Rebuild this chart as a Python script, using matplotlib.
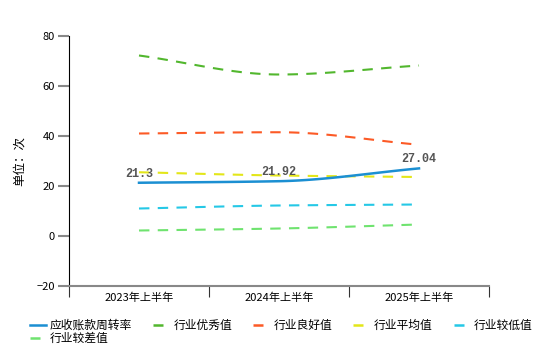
import numpy as np
import matplotlib
matplotlib.use("Agg")
import matplotlib.pyplot as plt
from matplotlib.lines import Line2D

plt.rcParams['font.family'] = ['Noto Sans CJK SC', 'DejaVu Sans']

periods = ["2023年上半年", "2024年上半年", "2025年上半年"]
turnover = [21.3, 21.92, 27.04]
excellent = [72.2, 64.6, 68.2]
good = [41.0, 41.5, 36.5]
average = [25.5, 24.2, 23.6]
low = [11.0, 12.2, 12.6]
poor = [2.2, 3.0, 4.6]

series = [
    ("应收账款周转率", turnover, "#1b8fd2", "-"),
    ("行业优秀值", excellent, "#52b72e", "--"),
    ("行业良好值", good, "#fc5a26", "--"),
    ("行业平均值", average, "#e3e619", "--"),
    ("行业较低值", low, "#25c8e6", "--"),
    ("行业较差值", poor, "#6fe36f", "--"),
]


def monotone(x, y, n=60):
    # monotone cubic (Fritsch-Carlson) through the points
    x = np.asarray(x, float)
    y = np.asarray(y, float)
    d = np.diff(y) / np.diff(x)
    m = np.zeros_like(y)
    m[0], m[-1] = d[0], d[-1]
    for i in range(1, len(y) - 1):
        if d[i - 1] * d[i] > 0:
            m[i] = 2 / (1 / d[i - 1] + 1 / d[i])
    xs, ys = [], []
    for i in range(len(x) - 1):
        h = x[i + 1] - x[i]
        t = np.linspace(0, 1, n)
        h00 = 2 * t**3 - 3 * t**2 + 1
        h10 = t**3 - 2 * t**2 + t
        h01 = -2 * t**3 + 3 * t**2
        h11 = t**3 - t**2
        xs.append(x[i] + t * h)
        ys.append(h00 * y[i] + h10 * h * m[i] + h01 * y[i + 1] + h11 * h * m[i + 1])
    return np.concatenate(xs), np.concatenate(ys)


fig = plt.figure(figsize=(5.6, 3.46), dpi=100)
ax = fig.add_axes([69/560, 60/346, 420/560, 250/346])

x = np.arange(len(periods)) + 0.5
for name, vals, color, ls in series:
    xs, ys = monotone(x, vals)
    if ls == "-":
        ax.plot(xs, ys, color=color, lw=1.8, zorder=3)
    else:
        ax.plot(xs, ys, color=color, lw=1.5, dashes=(5, 4), zorder=2)

for xi, v in zip(x, turnover):
    ax.text(xi, v + 1.2, f"{v:g}", ha="center", va="bottom", fontsize=8.5,
            family="Liberation Mono", fontweight="bold", color="#555555", zorder=4)

ax.set_xlim(0, 3)
ax.set_ylim(-20, 80)
ax.set_yticks([-20, 0, 20, 40, 60, 80])
ax.set_xticks([0, 1, 2, 3])
ax.set_xticklabels([])
ax.set_xticks(x, minor=True)
ax.set_xticklabels(periods, minor=True, fontsize=8)
ax.tick_params(axis="x", which="minor", length=0, pad=5)
ax.tick_params(axis="x", which="major", length=8, color="#333333", direction="out")
ax.tick_params(axis="y", length=8, color="#888888", labelsize=8, pad=2, width=1.5)
for s in ["top", "right"]:
    ax.spines[s].set_visible(False)
ax.spines["bottom"].set_color("#888888")
ax.spines["bottom"].set_linewidth(1.5)
ax.spines["left"].set_color("#000000")
ax.set_ylabel("单位：次", fontsize=9, labelpad=8)

handles = []
for name, vals, color, ls in series:
    if ls == "-":
        handles.append(Line2D([0], [0], color=color, lw=1.8))
    else:
        handles.append(Line2D([0], [0], color=color, lw=1.8, dashes=(4, 3)))
labels = [s[0] for s in series]
order = [0, 5, 1, 2, 3, 4]
fig.legend([handles[i] for i in order], [labels[i] for i in order],
           loc="upper left", bbox_to_anchor=(25/560, 1 - 314/346),
           ncol=5, frameon=False, fontsize=8.5, handlelength=1.4, handletextpad=0.3,
           columnspacing=1.8, labelspacing=0.05, borderaxespad=0)

fig.savefig("out.png", dpi=100)
